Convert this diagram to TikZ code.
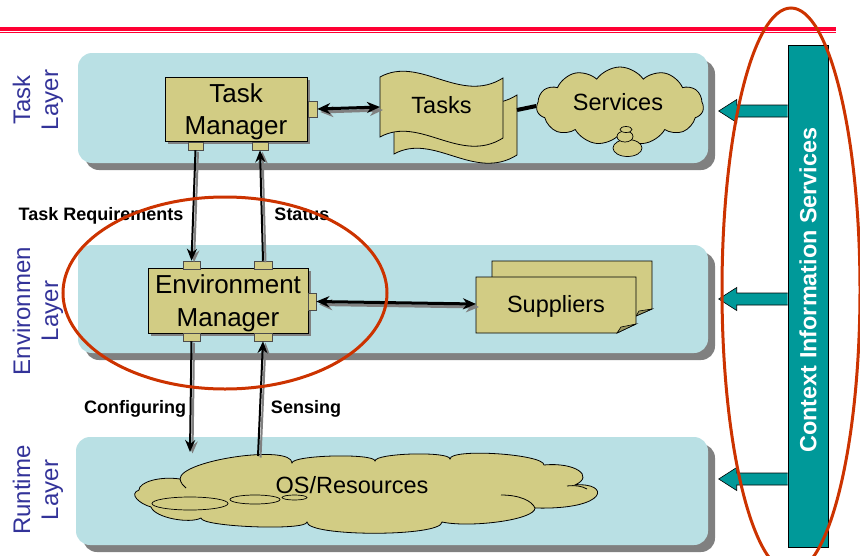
\documentclass[tikz,border=0pt]{standalone}
\usepackage{fontspec}
\setmainfont{Liberation Sans}
\usetikzlibrary{shapes.symbols,arrows.meta,calc,shadows}

\definecolor{layerfill}{RGB}{185,224,228}
\definecolor{shade}{RGB}{128,128,128}
\definecolor{olive}{RGB}{210,204,132}
\definecolor{ctxteal}{RGB}{0,153,153}
\definecolor{layerblue}{RGB}{51,51,153}
\definecolor{ringred}{RGB}{204,51,0}
\definecolor{rulered}{RGB}{255,0,51}

\tikzset{
  layer/.style={fill=layerfill, rounded corners=14pt, inner sep=0pt,
    drop shadow={shadow xshift=7pt, shadow yshift=-7pt, fill=shade, opacity=1}},
  mgr/.style={fill=olive, draw=black, line width=0.8pt, inner sep=0pt, align=center,
    text depth=0pt, font=\fontsize{26}{32}\selectfont,
    drop shadow={shadow xshift=3pt, shadow yshift=-3pt, fill=shade, opacity=1}},
  port/.style={fill=olive, draw=black!70, line width=0.5pt, inner sep=0pt},
  sheet/.style={fill=olive, draw=black, line width=0.8pt},
  flap/.style={fill=olive!75!black, draw=black, line width=0.6pt},
  puff/.style={cloud, cloud ignores aspect, fill=olive, draw=black, line width=0.8pt, inner sep=0pt},
  cloudline/.style={draw=black, line width=0.8pt},
  bubble/.style={fill=olive, draw=black, line width=0.7pt},
  lbl/.style={font=\bfseries\fontsize{18}{20}\selectfont, anchor=base, inner sep=0pt},
  body/.style={font=\fontsize{23.5}{28}\selectfont, anchor=base, inner sep=0pt},
  layerlbl/.style={rotate=90, text=layerblue, align=center, inner sep=0pt,
    font=\fontsize{24}{28}\selectfont},
  flow/.style={line width=2pt, -{Stealth[length=12pt,width=10pt,inset=4pt]},
    preaction={draw=shade, line width=2pt, transform canvas={shift={(2.5,1.5)}}}},
  link/.style={line width=3pt, {Stealth[length=13pt,width=11pt,inset=4pt]}-{Stealth[length=13pt,width=11pt,inset=4pt]},
    preaction={draw=shade, line width=3pt, transform canvas={shift={(3,3)}}}},
  ring/.style={draw=ringred, line width=3pt},
  ctxarrow/.pic={\filldraw[fill=ctxteal, draw=black, line width=0.6pt]
    (0,-6) -- (-51,-6) -- (-51,-11.5) -- (-69,0) -- (-51,11.5) -- (-51,6) -- (0,6);}
}

\begin{document}
\begin{tikzpicture}[x=1pt,y=-1pt]
\useasboundingbox (0,0) rectangle (860,555);

% header rule
\draw[rulered, line width=4pt] (0,28.5) -- (836,28.5);
\draw[rulered, line width=1.2pt] (0,32.8) -- (836,32.8);

% layer bands
\node[layer, minimum width=630pt, minimum height=110pt] (tl) at (393,108) {};
\node[layer, minimum width=630pt, minimum height=108pt] (el) at (393,299) {};
\node[layer, minimum width=632pt, minimum height=108pt] (rl) at (392,491) {};

% layer captions
\node[layerlbl] (tlc) at (38,100) {Task\\Layer};
\node[layerlbl] (elc) at (38,311) {Environmen\\Layer};
\node[layerlbl] (rlc) at (38,490) {Runtime\\Layer};

% task layer contents
\node[mgr, minimum width=142pt, minimum height=64pt] (tm) at (236,109) {Task\\Manager};
\node[port, minimum width=9pt, minimum height=16pt] (tmr) at (312.5,109) {};
\node[port, minimum width=15pt, minimum height=8pt] (tmb1) at (195.5,146) {};
\node[port, minimum width=16pt, minimum height=8pt] (tmb2) at (260,146) {};

\draw[sheet] (394,94) .. controls (434,72) and (474,122) .. (517,95) -- (517,155)
  .. controls (474,182) and (434,132) .. (394,154) -- cycle;
\draw[sheet] (380,77) .. controls (420,55) and (460,105) .. (503,78) -- (503,138)
  .. controls (460,165) and (420,115) .. (380,137) -- cycle;
\node[body] (tasks) at (441.5,113) {Tasks};
\coordinate (tasksW) at (380,107);
\coordinate (tasksE) at (517,110);

\node[puff, cloud puffs=11, cloud puff arc=110, minimum width=167pt, minimum height=78pt] (svc) at (620,106) {};
\draw[bubble] (627.5,148) ellipse [x radius=14.5, y radius=8.5];
\draw[bubble] (625,136.5) ellipse [x radius=8, y radius=5.5];
\draw[bubble] (626,129.5) ellipse [x radius=6, y radius=3];
\node[body] (svct) at (618,110) {Services};

\draw[line width=4pt] (tasksE) -- (svc.west);
\draw[link] (tmr.east) -- (tasksW);

% environment layer contents
\node[mgr, minimum width=160pt, minimum height=65pt, font=\fontsize{26}{33}\selectfont] (em) at (228,300.5) {Environment\\Manager};
\node[port, minimum width=17pt, minimum height=8pt] (emt1) at (191.5,265) {};
\node[port, minimum width=18pt, minimum height=8pt] (emt2) at (263,265) {};
\node[port, minimum width=8pt, minimum height=17pt] (emr) at (312,301.5) {};
\node[port, minimum width=17pt, minimum height=8pt] (emb1) at (191.5,337) {};
\node[port, minimum width=18pt, minimum height=8pt] (emb2) at (263,337) {};

\draw[sheet] (492,261) -- (652,261) -- (652,309) -- (636,316) -- (492,316) -- cycle;
\draw[flap] (652,309) -- (639,311) -- (636,316) -- cycle;
\draw[sheet] (476,277) -- (636,277) -- (636,324) -- (617,333) -- (476,333) -- cycle;
\draw[flap] (636,324) -- (621,327) -- (617,333) -- cycle;
\node[body] (sup) at (556,312) {Suppliers};
\coordinate (supW) at (476,304);

\draw[link] (emr.east) -- (supW);

% runtime layer contents: the resource cloud
\filldraw[fill=olive, cloudline] (139,490)
  .. controls (139,482) and (160,476) .. (180,479)
  .. controls (180,460) and (292,444) .. (292,463)
  .. controls (292,455) and (375,453) .. (375,461)
  .. controls (375,453) and (450,451) .. (450,459)
  .. controls (450,448) and (544,454) .. (544,465)
  .. controls (575,462) and (595,476) .. (575,485)
  .. controls (610,482) and (610,510) .. (535,508)
  .. controls (535,520) and (470,528) .. (442,522)
  .. controls (442,537) and (307,537) .. (307,522)
  .. controls (307,531) and (201,527) .. (201,518)
  .. controls (190,524) and (155,518) .. (151,507)
  .. controls (140,504) and (128,494) .. (139,490) -- cycle;
\draw[cloudline] (501,495) .. controls (520,495) and (532,501) .. (535,508);
\draw[cloudline] (567,486) .. controls (575,485) and (582,486) .. (587,489);
\draw[cloudline] (180,479) .. controls (181,483) and (183,486) .. (186,488);
\draw[bubble] (190,503.5) ellipse [x radius=38, y radius=6.5];
\draw[bubble] (255,499.5) ellipse [x radius=25, y radius=4.5];
\draw[bubble] (294.5,497.5) ellipse [x radius=12.5, y radius=2.5];
\node[body] (ost) at (352,493) {OS/Resources};
\coordinate (cfgEnd) at (190,452);
\coordinate (senStart) at (258,456);

% vertical flows between layers
\draw[flow] (tmb1.south) -- (emt1.north);
\draw[flow] (emt2.north) -- (tmb2.south);
\draw[flow] (emb1.south) -- (cfgEnd);
\draw[flow] (senStart) -- (emb2.south);

\node[lbl] (treq) at (101,220) {Task Requirements};
\node[lbl] (stat) at (302,220) {Status};
\node[lbl] (conf) at (135,413) {Configuring};
\node[lbl] (sens) at (306,413) {Sensing};

% context information services bar
\node[fill=ctxteal, draw=black, line width=0.6pt, minimum width=40pt, minimum height=502pt, inner sep=0pt] (cis) at (808,296) {};
\node[rotate=90, text=white, font=\bfseries\fontsize{23.4}{28}\selectfont, inner sep=0pt] (cist) at (808,290) {Context Information Services};
\coordinate (y1) at (0,111);
\coordinate (y2) at (0,299);
\coordinate (y3) at (0,479);
\pic at (cis.west |- y1) {ctxarrow};
\pic at (cis.west |- y2) {ctxarrow};
\pic at (cis.west |- y3) {ctxarrow};

% highlight rings
\draw[ring] (225,293) ellipse [x radius=162, y radius=96];
\draw[ring] (791,290) ellipse [x radius=69, y radius=282];
\end{tikzpicture}
\end{document}
